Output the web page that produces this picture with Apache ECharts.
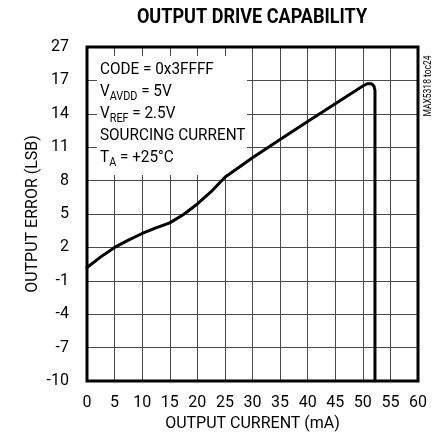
<!DOCTYPE html>
<html>
<head>
<meta charset="utf-8">
<script src="https://cdn.jsdelivr.net/npm/echarts@6/dist/echarts.min.js"></script>
<style>
  html, body { margin: 0; padding: 0; background: #fff; }
  #chart { width: 439px; height: 440px; }
</style>
</head>
<body>
<div id="chart"></div>
<script>
// 输出电流 (mA) 与 输出误差 (LSB)
const current = [0, 2.5, 5, 7.5, 10, 12.5, 15, 17.5, 20, 22.5, 25, 30, 35, 40, 45, 50, 50.8, 51.6, 52.0, 52.2, 52.2];
const error = [0.2, 1.15, 2.0, 2.65, 3.25, 3.75, 4.2, 4.95, 5.9, 7.0, 8.3, 10.05, 11.7, 13.3, 14.9, 16.5, 16.7, 16.7, 16.5, 16.1, -10];

// 纵轴刻度 (最上面一格标成 27)
const yTickValues = [-10, -7, -4, -1, 2, 5, 8, 11, 14, 17, 20];
const yTickLabels = ['-10', '-7', '-4', '-1', '2', '5', '8', '11', '14', '17', '27'];

const FONT = "Roboto, 'Liberation Sans', sans-serif";

const myChart = echarts.init(document.getElementById('chart'));

const option = {
  animation: false,
  grid: {
    left: 87, right: 21, top: 47, bottom: 59,
    show: true,
    borderColor: '#000',
    borderWidth: 3,
    z: 3
  },
  xAxis: {
    type: 'value',
    min: 0, max: 60, interval: 5,
    name: 'OUTPUT CURRENT (mA)',
    nameLocation: 'middle',
    nameGap: 33,
    nameTextStyle: { color: '#000', fontFamily: FONT, fontSize: 16 },
    axisLine: { show: false },
    axisTick: { show: false },
    axisLabel: { color: '#000', fontFamily: FONT, fontSize: 16, margin: 14 },
    splitLine: { show: true, lineStyle: { color: '#4a4a4a', width: 1 } }
  },
  yAxis: {
    type: 'value',
    min: -10, max: 20,
    name: 'OUTPUT ERROR (LSB)',
    nameLocation: 'middle',
    nameGap: 46,
    nameMoveOverlap: false,
    nameTextStyle: { color: '#000', fontFamily: FONT, fontSize: 16 },
    axisLine: { show: false },
    axisTick: { show: false, customValues: yTickValues },
    axisLabel: {
      color: '#000', fontFamily: FONT, fontSize: 16, margin: 18,
      customValues: yTickValues,
      formatter: v => yTickLabels[yTickValues.indexOf(v)]
    },
    splitLine: { show: true, lineStyle: { color: '#4a4a4a', width: 1 } }
  },
  graphic: [
    {
      type: 'text', x: 252, y: 18, scaleX: 0.86,
      style: { text: 'OUTPUT DRIVE CAPABILITY', fill: '#000', font: 'bold 21px ' + FONT, align: 'center', verticalAlign: 'middle' }
    },
    {
      type: 'text', x: 428, y: 86, rotation: Math.PI / 2, scaleX: 0.85,
      style: { text: 'MAX5318 toc24', fill: '#000', font: '10px ' + FONT, align: 'center', verticalAlign: 'middle' }
    },
    {
      type: 'rect', z: 1,
      shape: { x: 97, y: 56, width: 150, height: 119 },
      style: { fill: '#fff' }
    },
    {
      type: 'text', x: 100, y: 59, z: 2, scaleX: 0.9,
      style: {
        text: 'CODE = 0x3FFFF\nV{s|AVDD} = 5V\nV{s|REF} = 2.5V\nSOURCING CURRENT\nT{s|A} = +25°C',
        fill: '#000', font: '17px ' + FONT, lineHeight: 22,
        rich: {
          s: { fontSize: 12, fontFamily: FONT, lineHeight: 22, verticalAlign: 'bottom' }
        }
      }
    }
  ],
  series: [
    {
      type: 'line',
      data: current.map((c, i) => [c, error[i]]),
      symbol: 'none',
      z: 4,
      lineStyle: { color: '#000', width: 3, join: 'round', cap: 'round' }
    }
  ]
};

myChart.setOption(option);
</script>
</body>
</html>
